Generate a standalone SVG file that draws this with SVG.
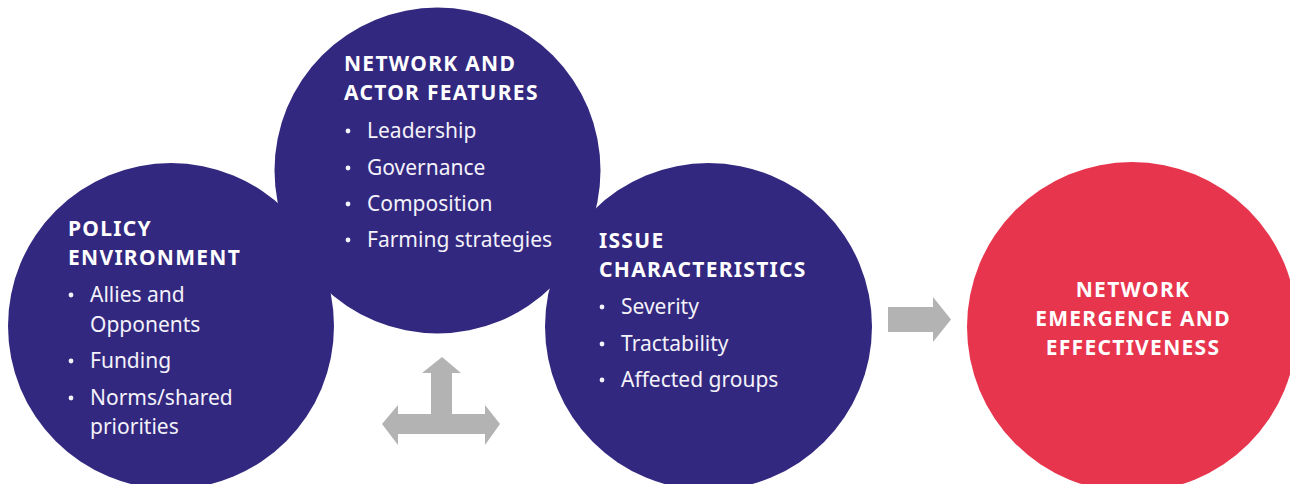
<svg xmlns="http://www.w3.org/2000/svg" width="1290" height="484" viewBox="0 0 1290 484">
<style>
.purple{fill:#33287f}
.red{fill:#e7354e}
.arrow{fill:#b3b3b3}
.h{font-family:"Noto Sans","Liberation Sans",sans-serif;font-weight:bold;font-size:21px;letter-spacing:1.3px;fill:#ffffff}
.b{font-family:"Noto Sans","Liberation Sans",sans-serif;font-size:21px;letter-spacing:0px;fill:#f4f2fa}
.dot{fill:#f4f2fa}
</style>
<rect width="1290" height="484" fill="#ffffff"/>
<g id="policy-environment">
<circle class="purple" cx="171" cy="326" r="163"/>
<text class="h" x="68" y="236">POLICY</text>
<text class="h" x="68" y="265">ENVIRONMENT</text>
<circle class="dot" cx="71" cy="295" r="2.4"/>
<text class="b" x="90" y="302">Allies and</text>
<text class="b" x="90" y="332">Opponents</text>
<circle class="dot" cx="71" cy="361" r="2.4"/>
<text class="b" x="90" y="368">Funding</text>
<circle class="dot" cx="71" cy="398" r="2.4"/>
<text class="b" x="90" y="405">Norms/shared</text>
<text class="b" x="90" y="434">priorities</text>
</g>
<g id="issue-characteristics">
<circle class="purple" cx="708.5" cy="326.5" r="163.5"/>
<text class="h" x="599" y="248">ISSUE</text>
<text class="h" x="599" y="277">CHARACTERISTICS</text>
<circle class="dot" cx="602" cy="307" r="2.4"/>
<text class="b" x="621" y="314">Severity</text>
<circle class="dot" cx="602" cy="344" r="2.4"/>
<text class="b" x="621" y="351">Tractability</text>
<circle class="dot" cx="602" cy="380" r="2.4"/>
<text class="b" x="621" y="387">Affected groups</text>
</g>
<g id="network-actor-features">
<circle class="purple" cx="437.5" cy="170.5" r="163"/>
<text class="h" x="344" y="71">NETWORK AND</text>
<text class="h" x="344" y="100">ACTOR FEATURES</text>
<circle class="dot" cx="348" cy="131" r="2.4"/>
<text class="b" x="367" y="138">Leadership</text>
<circle class="dot" cx="348" cy="168" r="2.4"/>
<text class="b" x="367" y="175">Governance</text>
<circle class="dot" cx="348" cy="204" r="2.4"/>
<text class="b" x="367" y="211">Composition</text>
<circle class="dot" cx="348" cy="240" r="2.4"/>
<text class="b" x="367" y="247">Farming strategies</text>
</g>
<g id="network-emergence">
<circle class="red" cx="1132" cy="327" r="165"/>
<text class="h" x="1133" y="297" text-anchor="middle">NETWORK</text>
<text class="h" x="1133" y="326" text-anchor="middle">EMERGENCE AND</text>
<text class="h" x="1133" y="355" text-anchor="middle">EFFECTIVENESS</text>
</g>
<g id="connectors">
<polygon class="arrow" points="431,434 431,373 422,373 442,357 461,373 452,373 452,414 485,414 485,405 500,424 485,445 485,434 398,434 398,445 382,424 398,405 398,414 431,414"/>
<polygon class="arrow" points="888,307 933,307 933,297 951,319.5 933,342 933,332 888,332"/>
</g>
</svg>
